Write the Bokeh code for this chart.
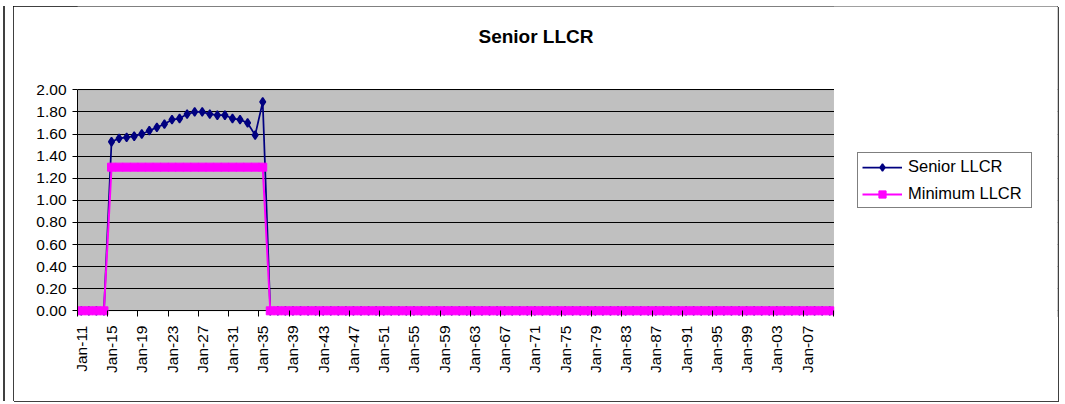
import math
from bokeh.plotting import figure
from bokeh.models import (FixedTicker, Legend, LegendItem, Label, BoxAnnotation,
                          Range1d, NumeralTickFormatter, ColumnDataSource)
from bokeh.embed import file_html
from bokeh.resources import INLINE

# ---- data ----
years = list(range(2011, 2111))
categories = [f"Jan-{y % 100:02d}" for y in years]
senior_core = [1.53, 1.56, 1.57, 1.58, 1.60, 1.63, 1.66, 1.69, 1.73, 1.74, 1.78,
               1.80, 1.80, 1.78, 1.77, 1.77, 1.74, 1.73, 1.70, 1.59, 1.89]
senior_llcr = [0.0] * 4 + senior_core + [0.0] * 75
minimum_llcr = [0.0] * 4 + [1.30] * 21 + [0.0] * 75
y_ticks = [0.0, 0.2, 0.4, 0.6, 0.8, 1.0, 1.2, 1.4, 1.6, 1.8, 2.0]
y_min, y_max = 0.0, 2.0
label_step = 4

FONT = "Liberation Sans"
n = len(categories)
x = list(range(n))

# ---- layout (pixels) ----
W, H = 1045, 395                 # chart box (page offset 13, 6)
LEFT, RIGHT = 64, 1
FRAME_W = W - LEFT - RIGHT
FRAME_H = 310
PX_PER_CAT = 7.56
PX_PER_UNIT = 110.5
ZERO_ABOVE_BOTTOM = 5.7

x_start = -0.5
x_end = x_start + FRAME_W / PX_PER_CAT
y_start = -ZERO_ABOVE_BOTTOM / PX_PER_UNIT
y_end = y_start + FRAME_H / PX_PER_UNIT

p = figure(width=W, height=H, x_range=Range1d(x_start, x_end), y_range=Range1d(y_start, y_end),
           output_backend="svg", toolbar_location=None,
           min_border_left=LEFT, min_border_right=RIGHT,
           min_border_top=0, min_border_bottom=H - FRAME_H,
           background_fill_color="white", border_fill_color="white",
           outline_line_color=None)
p.styles = {"margin-left": "13px", "margin-top": "6px",
            "outline": "1px solid black", "outline-offset": "-1px",
            "box-shadow": "-8px 0 0 0 white, -10px 0 0 0 #404040, 1px 1px 0 0 #404040"}

# plot area (grey)
p.add_layout(BoxAnnotation(left=-0.5, right=n - 0.5, bottom=y_min, top=y_max,
                           fill_color="#C0C0C0", fill_alpha=1,
                           line_color="#808080", line_width=1, level="image"))

# y axis
p.yaxis.ticker = FixedTicker(ticks=y_ticks)
p.yaxis.bounds = (y_min, y_max)
p.yaxis.formatter = NumeralTickFormatter(format="0.00")
p.yaxis.major_tick_out = 5
p.yaxis.major_tick_in = 0
p.yaxis.minor_tick_out = 0
p.yaxis.minor_tick_in = 0
p.yaxis.axis_line_color = "black"
p.yaxis.major_tick_line_color = "black"
p.yaxis.major_label_standoff = 6
p.yaxis.major_label_text_font = FONT
p.yaxis.major_label_text_font_size = "15.5px"
p.yaxis.major_label_text_color = "black"

# x axis: labels at category centres, tick marks at category boundaries
major = list(range(0, n, label_step))
minor = [i - 0.5 for i in range(0, n + 1, label_step)]
p.xaxis.ticker = FixedTicker(ticks=major, minor_ticks=minor)
p.xaxis.bounds = (-0.5, n - 0.5)
p.xaxis.major_label_overrides = {i: categories[i] for i in major}
p.xaxis.major_tick_out = 0
p.xaxis.major_tick_in = 0
p.xaxis.minor_tick_out = 0
p.xaxis.minor_tick_in = 6
p.xaxis.minor_tick_line_color = "black"
p.xaxis.axis_line_color = None
p.xaxis.major_label_orientation = math.pi / 2
p.xaxis.major_label_standoff = 9
p.xaxis.major_label_text_font = FONT
p.xaxis.major_label_text_font_size = "15.5px"
p.xaxis.major_label_text_color = "black"

p.xgrid.visible = False
p.ygrid.ticker = FixedTicker(ticks=y_ticks)
p.ygrid.grid_line_color = "black"
p.ygrid.grid_line_width = 1

# white cover right of the plot area (grid lines stop at the plot area)
p.add_layout(BoxAnnotation(left=n - 0.5 + 0.5 / PX_PER_CAT, fill_color="white", fill_alpha=1,
                           line_color=None, level="underlay"))

src = ColumnDataSource(dict(x=x, senior=senior_llcr, minimum=minimum_llcr))
r1 = p.line("x", "senior", source=src, line_color="#000080", line_width=1.75)
r2 = p.scatter("x", "senior", source=src, marker="diamond", size=8.5, line_width=1.5,
               fill_color="#000080", line_color="#000080")
r3 = p.line("x", "minimum", source=src, line_color="#FF00FF", line_width=2)
r4 = p.scatter("x", "minimum", source=src, marker="square", size=8,
               fill_color="#FF00FF", line_color="#FF00FF")

legend = Legend(items=[LegendItem(label="Senior LLCR", renderers=[r1, r2]),
                       LegendItem(label="Minimum LLCR", renderers=[r3, r4])],
                location=(780, 108), orientation="vertical",
                glyph_width=40, glyph_height=18, label_height=18, label_width=119,
                label_standoff=6, spacing=8, padding=4, margin=0,
                border_line_color="black", border_line_width=1,
                background_fill_color="white", background_fill_alpha=1,
                label_text_font=FONT, label_text_font_size="16.5px",
                label_text_color="black")
p.add_layout(legend)

title = Label(x=522.5, y=30.3, x_units="canvas", y_units="canvas", text="Senior LLCR",
              text_font=FONT, text_font_style="bold", text_font_size="19px",
              text_align="center", text_baseline="alphabetic", text_color="black")
p.add_layout(title)

open("out.html", "w").write(file_html(p, INLINE))
